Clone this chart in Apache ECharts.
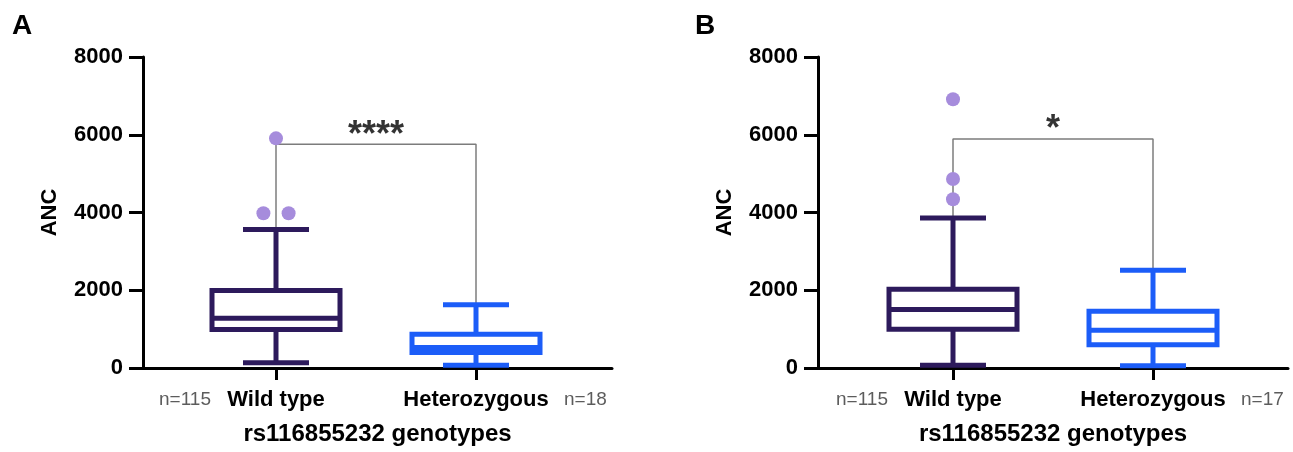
<!DOCTYPE html>
<html>
<head>
<meta charset="utf-8">
<script src="https://cdn.jsdelivr.net/npm/echarts@6.0.0/dist/echarts.min.js"></script>
<style>
    html, body { margin: 0; padding: 0; background: #fff; }
    #chart { width: 1293px; height: 452px; }
</style>
</head>
<body>
<div id="chart"></div>
<script>
// ── data ──
var categories = ['Wild type', 'Heterozygous'];
var groupX = [1, 2];              // x position of each group on the value axis
var yTicks = [0, 2000, 4000, 6000, 8000];

// box stats per group: [min, Q1, median, Q3, max]
var boxesA = [[133, 990, 1278, 1994, 3563], [69, 399, 527, 869, 1628]];
var boxesB = [[69, 998, 1505, 2027, 3859], [57, 600, 970, 1458, 2513]];

// outliers of the wild type group: [x jitter, value]
var outliersA = [[0, 5908], [-0.063, 3979], [0.063, 3979]];
var outliersB = [[0, 6912], [0, 4862], [0, 4340]];

var countsA = ['n=115', 'n=18'];
var countsB = ['n=115', 'n=17'];

// significance bracket height, stars text, stars height
var bracketA = 5754, starsA = '****', starsAY = 6174;
var bracketB = 5890, starsB = '*', starsBY = 6328;

var PURPLE = '#2d1a5c';
var BLUE = '#1c5df8';
var DOT = '#a68cdc';
var FONT = '"Liberation Sans", Arial, sans-serif';

// ── helpers ──

function seg(x1, y1, x2, y2, color) {
    return {
        type: 'line',
        shape: { x1: x1, y1: y1, x2: x2, y2: y2 },
        style: { stroke: color, lineWidth: 5 }
    };
}

function renderBox(params, api) {
    var x = api.value(0);
    var color = params.dataIndex === 0 ? PURPLE : BLUE;
    var lo = api.coord([x, api.value(1)]);
    var q1 = api.coord([x, api.value(2)]);
    var md = api.coord([x, api.value(3)]);
    var q3 = api.coord([x, api.value(4)]);
    var hi = api.coord([x, api.value(5)]);
    var bw = api.size([0.64, 0])[0];
    var cw = api.size([0.33, 0])[0];
    var cx = lo[0];
    return {
        type: 'group',
        children: [
            seg(cx, q3[1], cx, hi[1], color),
            seg(cx, q1[1], cx, lo[1], color),
            seg(cx - cw / 2, hi[1], cx + cw / 2, hi[1], color),
            seg(cx - cw / 2, lo[1], cx + cw / 2, lo[1], color),
            {
                type: 'rect',
                shape: { x: cx - bw / 2, y: q3[1], width: bw, height: q1[1] - q3[1] },
                style: { stroke: color, lineWidth: 5, fill: '#fff' }
            },
            seg(cx - bw / 2, md[1], cx + bw / 2, md[1], color)
        ]
    };
}

function makeXAxis(idx, min, max) {
    return {
        type: 'value',
        gridIndex: idx,
        min: min,
        max: max,
        splitLine: { show: false },
        axisLine: { show: true, onZero: false, lineStyle: { color: '#000', width: 3 } },
        axisTick: { show: true, customValues: groupX, length: 12, lineStyle: { color: '#000', width: 3 } },
        axisLabel: {
            show: true,
            customValues: groupX,
            margin: 21,
            showMinLabel: true,
            showMaxLabel: true,
            formatter: function (v) { return categories[groupX.indexOf(Math.round(v))] || ''; },
            fontFamily: FONT, fontWeight: 'bold', fontSize: 22, color: '#000'
        },
        name: 'rs116855232 genotypes',
        nameLocation: 'middle',
        nameGap: 54,
        nameTextStyle: { fontFamily: FONT, fontWeight: 'bold', fontSize: 24, color: '#000' }
    };
}

function makeYAxis(idx) {
    return {
        type: 'value',
        gridIndex: idx,
        min: yTicks[0],
        max: yTicks[yTicks.length - 1],
        interval: 2000,
        splitLine: { show: false },
        axisLine: { show: true, onZero: false, lineStyle: { color: '#000', width: 3 } },
        axisTick: { show: true, length: 14, lineStyle: { color: '#000', width: 3 } },
        axisLabel: {
            margin: 20,
            formatter: function (v) { return String(v); },
            fontFamily: FONT, fontWeight: 'bold', fontSize: 22, color: '#000'
        },
        name: 'ANC',
        nameLocation: 'middle',
        nameGap: 82,
        nameTextStyle: { fontFamily: FONT, fontWeight: 'bold', fontSize: 22, color: '#000' }
    };
}

function panelSeries(idx, boxes, outliers, bracketY, stars, starsY, counts) {
    var x0 = groupX[0], x1 = groupX[1];
    var nStyle = { show: true, position: 'inside', fontFamily: FONT, fontSize: 19, color: '#333' };
    return [
        {
            type: 'line',
            xAxisIndex: idx,
            yAxisIndex: idx,
            symbol: 'none',
            silent: true,
            z: 1,
            lineStyle: { color: '#7c7c7c', width: 1.5 },
            data: [[x0, boxes[0][4]], [x0, bracketY], [x1, bracketY], [x1, boxes[1][4]]]
        },
        {
            type: 'custom',
            xAxisIndex: idx,
            yAxisIndex: idx,
            z: 2,
            renderItem: renderBox,
            encode: { x: 0, y: [1, 2, 3, 4, 5] },
            data: boxes.map(function (s, i) { return [groupX[i]].concat(s); })
        },
        {
            type: 'scatter',
            xAxisIndex: idx,
            yAxisIndex: idx,
            z: 3,
            symbolSize: 14,
            itemStyle: { color: DOT, opacity: 1 },
            data: outliers.map(function (o) { return [x0 + o[0], o[1]]; })
        },
        {
            type: 'scatter',
            xAxisIndex: idx,
            yAxisIndex: idx,
            symbolSize: 1,
            itemStyle: { color: 'rgba(0,0,0,0)' },
            label: {
                show: true,
                position: 'inside',
                offset: [0, 8],
                formatter: stars,
                fontFamily: FONT,
                fontWeight: 'bold',
                fontSize: 36,
                color: '#000'
            },
            data: [[(x0 + x1) / 2, starsY]]
        },
        {
            // group sizes beside the category names
            type: 'scatter',
            xAxisIndex: idx,
            yAxisIndex: idx,
            symbolSize: 1,
            clip: false,
            silent: true,
            itemStyle: { color: 'rgba(0,0,0,0)' },
            data: [
                { value: [x0, 0], label: Object.assign({ formatter: counts[0], align: 'right', offset: [-65, 32] }, nStyle) },
                { value: [x1, 0], label: Object.assign({ formatter: counts[1], align: 'left', offset: [88, 32] }, nStyle) }
            ]
        }
    ];
}

// ── chart ──

var chart = echarts.init(document.getElementById('chart'), null, { renderer: 'canvas' });

chart.setOption({
    animation: false,
    backgroundColor: '#fff',
    grid: [
        { left: 143, top: 57, width: 469, height: 311 },
        { left: 818, top: 57, width: 470, height: 311 }
    ],
    xAxis: [
        makeXAxis(0, 0.335, 2.68),
        makeXAxis(1, 0.325, 2.675)
    ],
    yAxis: [makeYAxis(0), makeYAxis(1)],
    graphic: [
        { type: 'text', left: 12, top: 12, style: { text: 'A', fontFamily: FONT, fontWeight: 'bold', fontSize: 28, fill: '#000' } },
        { type: 'text', left: 695, top: 12, style: { text: 'B', fontFamily: FONT, fontWeight: 'bold', fontSize: 28, fill: '#000' } }
    ],
    series: panelSeries(0, boxesA, outliersA, bracketA, starsA, starsAY, countsA)
        .concat(panelSeries(1, boxesB, outliersB, bracketB, starsB, starsBY, countsB))
});

window.addEventListener('resize', function () { chart.resize(); });
</script>
</body>
</html>
